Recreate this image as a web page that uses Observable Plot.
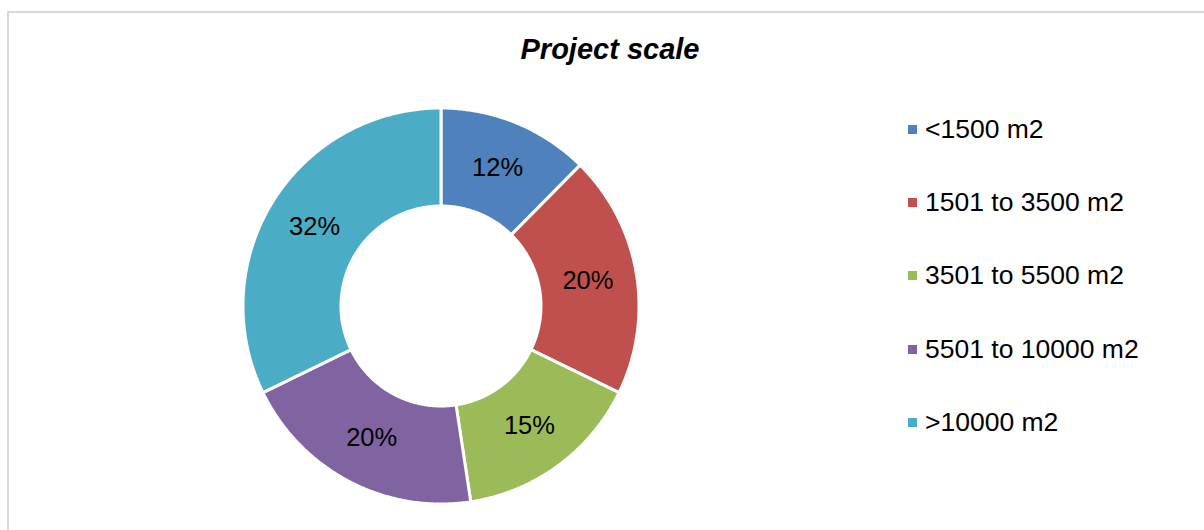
<!DOCTYPE html>
<html>
<head>
<meta charset="utf-8">
<script src="https://cdn.jsdelivr.net/npm/d3@7"></script>
<script src="https://cdn.jsdelivr.net/npm/@observablehq/plot@0.6"></script>
<style>
  html, body { margin: 0; padding: 0; background: #fff; }
  #wrap { position: relative; width: 1204px; height: 530px; overflow: hidden; font-family: "Liberation Sans", Arial, sans-serif; }
  #wrap > svg { position: absolute; left: 0; top: 0; }
  #frame { position: absolute; left: 7px; top: 11px; width: 1300px; height: 600px; border: 2px solid #d9d9d9; box-sizing: border-box; pointer-events: none; }
  #title { position: absolute; left: 0; width: 1220px; top: 33px; text-align: center; font: italic bold 29px "Liberation Sans", Arial, sans-serif; color: #000; }
  #legend { position: absolute; left: 908px; top: 92.5px; }
  #legend .lg-swatches { font-family: "Liberation Sans", Arial, sans-serif; font-size: 26.5px; color: #000; margin: 0; }
  #legend .lg-swatch { height: 73.4px; padding: 0; display: flex; align-items: center; }
  #legend .lg-swatch > svg { margin-right: 8px; }
</style>
</head>
<body>
<div id="wrap"></div>
<script>
// ---- data ----
const categories = ["<1500 m2", "1501 to 3500 m2", "3501 to 5500 m2", "5501 to 10000 m2", ">10000 m2"];
const shares = [12.4, 19.8, 15.4, 20.2, 32.2];
const colors = ["#4f81bd", "#c0504d", "#9bbb59", "#8064a2", "#4bacc6"];
const chartTitle = "Project scale";

// ---- geometry (unit circle, y down) ----
const innerR = 0.505, outerR = 1, labelR = 0.753;
const total = d3.sum(shares);
const arcs = d3.pie().sort(null).value(d => d)(shares);
const pt = (r, a) => [r * Math.sin(a), -r * Math.cos(a)];

const rows = arcs.map((a, i) => {
  const n = Math.max(8, Math.ceil((a.endAngle - a.startAngle) / (Math.PI / 360)));
  const angs = d3.range(n + 1).map(k => a.startAngle + (a.endAngle - a.startAngle) * k / n);
  const ring = [...angs.map(t => pt(outerR, t)), ...angs.slice().reverse().map(t => pt(innerR, t))];
  ring.push(ring[0]);
  const mid = (a.startAngle + a.endAngle) / 2;
  const [lx, ly] = pt(labelR, mid);
  return {
    category: categories[i],
    label: Math.round(shares[i] / total * 100) + "%",
    lx, ly,
    geometry: {type: "Polygon", coordinates: [ring]}
  };
});

const domainBox = {type: "Polygon", coordinates: [[[-1, -1], [1, -1], [1, 1], [-1, 1], [-1, -1]]]};

const color = {domain: categories, range: colors};

const chart = Plot.plot({
  width: 1204,
  height: 530,
  marginLeft: 242.5,
  marginRight: 565.5,
  marginTop: 107.5,
  marginBottom: 26.5,
  style: {background: "transparent"},
  projection: {type: "identity", domain: domainBox, clip: false},
  color,
  marks: [
    Plot.geo(rows, {geometry: "geometry", fill: "category", stroke: "white", strokeWidth: 3, strokeLinejoin: "miter"}),
    Plot.text(rows, {x: "lx", y: "ly", text: "label", fontSize: 25.5, fill: "black", fontFamily: "Liberation Sans, Arial, sans-serif"})
  ]
});

const wrap = document.getElementById("wrap");
wrap.appendChild(chart);

const frame = document.createElement("div");
frame.id = "frame";
wrap.appendChild(frame);

const title = document.createElement("div");
title.id = "title";
title.textContent = chartTitle;
wrap.appendChild(title);

const legendBox = document.createElement("div");
legendBox.id = "legend";
legendBox.appendChild(Plot.legend({color, legend: "swatches", columns: 1, swatchSize: 9, className: "lg"}));
wrap.appendChild(legendBox);
</script>
</body>
</html>
